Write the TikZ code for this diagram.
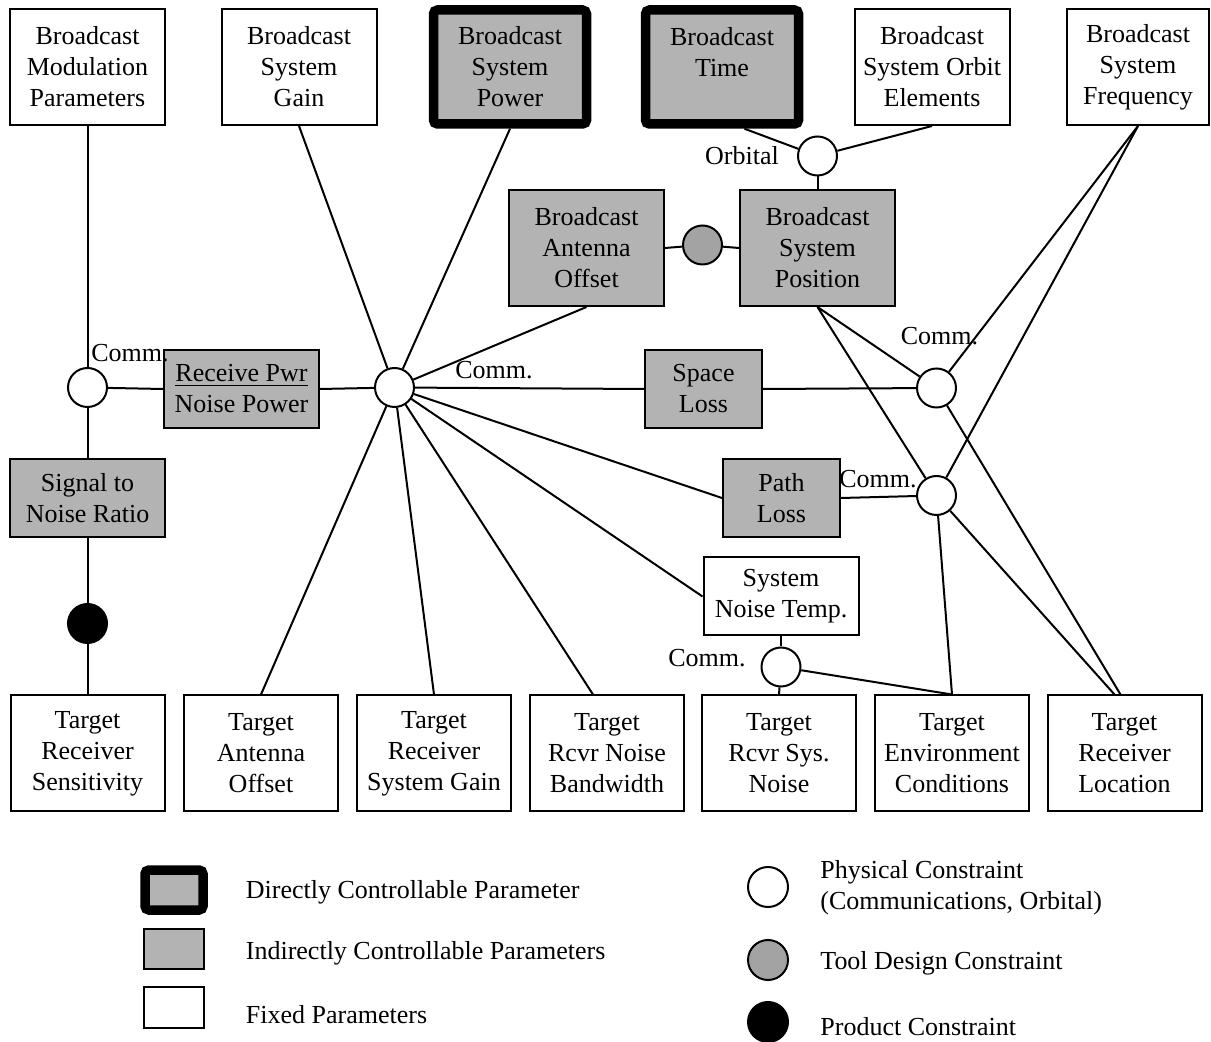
\documentclass[tikz,border=0pt]{standalone}
\usepackage{fontspec}
\setmainfont{Liberation Serif}
\usepackage{xcolor}
\usepackage{tikz}
\usetikzlibrary{calc}
\definecolor{boxgray}{HTML}{B3B3B3}
\definecolor{toolgray}{HTML}{A3A3A3}

\begin{document}
\begin{tikzpicture}[x=0.5pt,y=-0.5pt,
    font=\fontsize{13}{15.5}\selectfont,
    fixedbox/.style={draw,line width=1pt,fill=white,align=center,inner sep=1pt,
      minimum width=77.5pt,minimum height=58pt},
    indirectbox/.style={fixedbox,fill=boxgray},
    directbox/.style={indirectbox,line width=4.75pt,rounded corners=2pt,
      minimum width=76.5pt,minimum height=57pt},
    flat/.style={minimum height=39pt},
    narrow/.style={minimum width=58.5pt},
    constraint/.style={circle,draw,line width=1pt,fill=white,
      minimum size=19.5pt,inner sep=0pt},
    toolc/.style={constraint,fill=toolgray},
    productc/.style={constraint,fill=black},
    lbl/.style={inner sep=0pt},
    link/.style={line width=1pt}
  ]
    \useasboundingbox (0,0) rectangle (1211,1042);

    \node[fixedbox] (bmp) at (87.5,67) {Broadcast\\Modulation\\Parameters};
    \node[fixedbox] (bsg) at (299,67) {Broadcast\\System\\Gain};
    \node[directbox] (bsp) at (510,67) {Broadcast\\System\\Power};
    \node[directbox] (btime) at (722,67) {Broadcast\\Time\\\mbox{}};
    \node[fixedbox] (bsoe) at (932,67) {Broadcast\\System Orbit\\Elements};
    \node[fixedbox,minimum width=71pt] (bsf) at (1138,67) {Broadcast\\System\\Frequency};

    \node[constraint] (orb) at (817.5,156) {};
    \node[lbl] (orblbl) at (742,156) {Orbital};

    \node[indirectbox] (bao) at (586.5,248) {Broadcast\\Antenna\\Offset};
    \node[indirectbox] (bspos) at (817.5,248) {Broadcast\\System\\Position};
    \node[toolc] (tool) at (702.5,245) {};

    \node[constraint] (lcomm) at (87.5,387.5) {};
    \node[indirectbox,flat] (rpnp) at (241.5,389) {\underline{Receive Pwr}\\Noise Power};
    \node[lbl,anchor=west] (lcommlbl) at (91,353) {Comm.};
    \node[constraint] (hub) at (394.5,387.5) {};
    \node[lbl] (hublbl) at (494,370) {Comm.};
    \node[indirectbox,flat,narrow] (space) at (703.5,389) {Space\\Loss};
    \node[constraint] (cspace) at (936.5,388) {};
    \node[lbl] (cspacelbl) at (939.5,336) {Comm.};

    \node[indirectbox,flat] (snr) at (87.5,498) {Signal to\\Noise Ratio};
    \node[indirectbox,flat,narrow] (path) at (781.5,498) {Path\\Loss};
    \node[constraint] (cpath) at (936.5,495.5) {};
    \node[lbl] (cpathlbl) at (878,479) {Comm.};

    \node[productc] (prod) at (87.5,623.5) {};
    \node[fixedbox,flat] (snt) at (781,596.5) {System\\Noise Temp.};
    \node[constraint] (cnoise) at (781,667) {};
    \node[lbl] (cnoiselbl) at (707,658) {Comm.};

    \foreach \n/\x/\t in {trs/87.5/{Target\\Receiver\\Sensitivity},
                          tao/261/{Target\\Antenna\\Offset},
                          trsg/434/{Target\\Receiver\\System Gain},
                          trnb/607/{Target\\Rcvr Noise\\Bandwidth},
                          trsn/779/{Target\\Rcvr Sys.\\Noise},
                          tec/952/{Target\\Environment\\Conditions},
                          trl/1124.5/{Target\\Receiver\\Location}} {
      \node[fixedbox,minimum width=77pt] (\n) at (\x,753.5) {\t};
    }

    \draw[link] (bmp.south) -- (lcomm);
    \draw[link] (lcomm) -- (rpnp.west);
    \draw[link] (lcomm) -- (snr.north);
    \draw[link] (snr.south) -- (prod);
    \draw[link] (prod) -- (trs.north);

    \draw[link] (hub) -- (bsg.south);
    \draw[link] (hub) -- (bsp.south);
    \draw[link] (hub) -- (bao.south);
    \draw[link] (hub) -- (rpnp.east);
    \draw[link] (hub) -- (space.west);
    \draw[link] (hub) -- (path.west);
    \draw[link] (hub) -- (snt.west);
    \draw[link] (hub) -- (tao.north);
    \draw[link] (hub) -- (trsg.north);
    \draw[link] (hub) -- ($(trnb.north)+(-14,0)$);

    \draw[link] (btime.-70) -- (orb);
    \draw[link] (bsoe.south) -- (orb);
    \draw[link] (orb) -- (bspos.north);
    \draw[link] (bao.east) -- (tool) -- (bspos.west);

    \draw[link] (space.east) -- (cspace);
    \draw[link] (path.east) -- (cpath);
    \draw[link] (bspos.south) -- (cspace);
    \draw[link] (bspos.south) -- (cpath);
    \draw[link] (bsf.south) -- (cspace);
    \draw[link] (bsf.south) -- (cpath);
    \draw[link] (cspace) -- ($(trl.north)+(-4,0)$);
    \draw[link] (cpath) -- ($(trl.north)+(-10,0)$);
    \draw[link] (cpath) -- (tec.north);

    \draw[link] (snt.south) -- (cnoise);
    \draw[link] (cnoise) -- (trsn.north);
    \draw[link] (cnoise) -- (tec.north);

    \node[directbox,minimum width=29pt,minimum height=20pt] (keydirect) at (174,890) {};
    \node[indirectbox,minimum width=30pt,minimum height=20pt] (keyindirect) at (174,949) {};
    \node[fixedbox,minimum width=30pt,minimum height=20.5pt] (keyfixed) at (174,1007.5) {};
    \node[lbl,anchor=west] (keydirectlbl) at (245.5,892) {Directly Controllable Parameter};
    \node[lbl,anchor=west] (keyindirectlbl) at (245.5,953) {Indirectly Controllable Parameters};
    \node[lbl,anchor=west] (keyfixedlbl) at (245.5,1015) {Fixed Parameters};

    \node[constraint,minimum size=20pt] (keyphys) at (768,887) {};
    \node[toolc,minimum size=20pt] (keytool) at (768,960) {};
    \node[productc,minimum size=20pt] (keyprod) at (768,1022) {};
    \node[lbl,anchor=west,align=left] (keyphyslbl) at (820,888)
      {Physical Constraint\\(Communications, Orbital)};
    \node[lbl,anchor=west] (keytoollbl) at (820,963) {Tool Design Constraint};
    \node[lbl,anchor=west] (keyprodlbl) at (820,1027) {Product Constraint};
\end{tikzpicture}
\end{document}
